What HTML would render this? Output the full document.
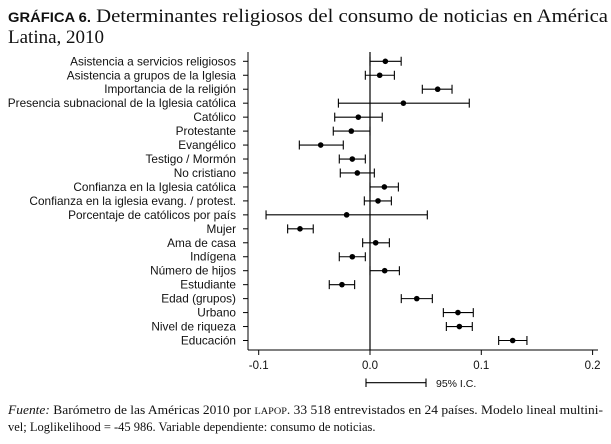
<!DOCTYPE html>
<html><head><meta charset="utf-8"><style>
html,body{margin:0;padding:0;background:#fff;}
svg{display:block;}
</style></head><body>
<svg width="611" height="444" viewBox="0 0 611 444" xmlns="http://www.w3.org/2000/svg">
<text x="8" y="22" textLength="600" lengthAdjust="spacingAndGlyphs" font-family="Liberation Serif, serif" font-size="19" fill="#111"><tspan font-family="Liberation Sans, sans-serif" font-weight="bold" font-size="13.5">GRÁFICA 6.</tspan> Determinantes religiosos del consumo de noticias en América</text>
<text x="8" y="43" font-family="Liberation Serif, serif" font-size="19" fill="#111">Latina, 2010</text>
<g id="plot"></g>
<text x="8" y="414" textLength="595" lengthAdjust="spacingAndGlyphs" font-family="Liberation Serif, serif" font-size="12.5" fill="#111"><tspan font-style="italic">Fuente:</tspan> Barómetro de las Américas 2010 por <tspan font-size="9.5">LAPOP</tspan>. 33 518 entrevistados en 24 países. Modelo lineal multini-</text>
<text x="8" y="431" font-family="Liberation Serif, serif" font-size="12.5" fill="#111">vel; Loglikelihood = -45 986. Variable dependiente: consumo de noticias.</text>
</svg>
<script>
const labels=["Asistencia a servicios religiosos","Asistencia a grupos de la Iglesia","Importancia de la religión","Presencia subnacional de la Iglesia católica","Católico","Protestante","Evangélico","Testigo / Mormón","No cristiano","Confianza en la Iglesia católica","Confianza en la iglesia evang. / protest.","Porcentaje de católicos por país","Mujer","Ama de casa","Indígena","Número de hijos","Estudiante","Edad (grupos)","Urbano","Nivel de riqueza","Educación"];
const estimates=[0.0138,0.0087,0.0608,0.030,-0.0105,-0.0168,-0.0443,-0.0159,-0.0114,0.0129,0.0072,-0.021,-0.0629,0.0051,-0.0159,0.0132,-0.0252,0.042,0.079,0.0803,0.1282];
const lower=[0,-0.0042,0.047,-0.0284,-0.0317,-0.033,-0.0635,-0.0276,-0.0267,0,-0.0051,-0.0934,-0.074,-0.0066,-0.0276,0,-0.0366,0.0281,0.0659,0.0686,0.1156];
const upper=[0.028,0.0219,0.0737,0.0892,0.011,0,-0.024,-0.0042,0.0039,0.0255,0.0192,0.0515,-0.051,0.0174,-0.0042,0.0264,-0.0138,0.056,0.0928,0.0919,0.141];
const xTicks=[-0.1,0,0.1,0.2];
const xTickLabels=["-0.1","0.0","0.1","0.2"];
const NS="http://www.w3.org/2000/svg";
const g=document.getElementById('plot');
const X=v=>370+v*1113;
const Y=i=>61.3+i*13.96;
function mk(t,a){const e=document.createElementNS(NS,t);for(const k in a)e.setAttribute(k,a[k]);g.appendChild(e);return e;}
let e;
e=mk('line',{x1:248,y1:52,x2:248,y2:350,stroke:'#000','stroke-width':1});


e=mk('line',{x1:248,y1:350,x2:598,y2:350,stroke:'#000','stroke-width':1});


e=mk('line',{x1:X(0),y1:52,x2:X(0),y2:350,stroke:'#000','stroke-width':1.2});


xTicks.forEach((t,i)=>{
 e=mk('line',{x1:X(t),y1:350,x2:X(t),y2:355,stroke:'#000'});
 
 
 e=mk('text',{x:X(t),y:369,'text-anchor':'middle','font-family':'Liberation Sans, sans-serif','font-size':11.5,fill:'#111'});
 e.textContent=xTickLabels[i];
 
 
});
labels.forEach((l,i)=>{
 const y=Y(i);
 e=mk('line',{x1:243,y1:y,x2:248,y2:y,stroke:'#000'});
 
 
 e=mk('text',{x:236,y:y+4,'text-anchor':'end','font-family':'Liberation Sans, sans-serif','font-size':11.8,fill:'#111'});
 e.textContent=l;
 
 
 const a=X(lower[i]),b=X(upper[i]);
 e=mk('path',{d:`M${a},${y}H${b}M${a},${y-4.5}V${y+4.5}M${b},${y-4.5}V${y+4.5}`,stroke:'#000','stroke-width':1.1,fill:'none'});
 
 
 e=mk('circle',{cx:X(estimates[i]),cy:y,r:2.8,fill:'#000'});
 
 
});
e=mk('path',{d:'M366,382.7H426M366,378.5V387M426,378.5V387',stroke:'#000','stroke-width':1.1,fill:'none'});


e=mk('text',{x:436,y:387,'font-family':'Liberation Sans, sans-serif','font-size':10.5,fill:'#111'});
e.textContent='95% I.C.';


</script>
</body></html>
